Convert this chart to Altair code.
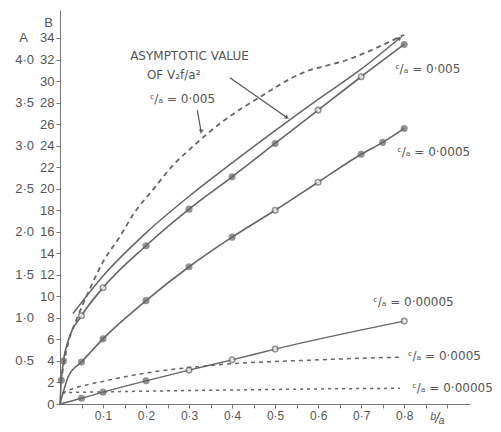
import altair as alt
import pandas as pd

# ---------------- data ----------------
# asymptotic value of V2f/a^2 (solid, no markers)
asym_x = [0.03, 0.1, 0.2, 0.3, 0.4, 0.5, 0.6, 0.7, 0.79]
asym_y = [8.4, 11.9, 15.9, 19.3, 22.4, 25.4, 28.3, 31.1, 34.0]

# c/a = 0.005 (solid)
s1_x = [0, 0.003, 0.008, 0.02, 0.05, 0.1, 0.2, 0.3, 0.4, 0.5, 0.6, 0.7, 0.8]
s1_y = [0, 2.2, 4.0, 6.0, 8.2, 10.8, 14.7, 18.1, 21.1, 24.2, 27.3, 30.4, 33.4]
s1_open = [None, False, False, None, True, True, False, False, False, False, True, True, False]

# c/a = 0.0005 (solid)
s2_x = [0, 0.02, 0.05, 0.1, 0.2, 0.3, 0.4, 0.5, 0.6, 0.7, 0.75, 0.8]
s2_y = [0, 2.6, 3.9, 6.05, 9.6, 12.75, 15.5, 18.0, 20.6, 23.2, 24.3, 25.6]
s2_open = [None, None, False, False, False, False, False, True, True, False, False, False]

# c/a = 0.00005 (solid)
s3_x = [0, 0.05, 0.1, 0.2, 0.3, 0.4, 0.5, 0.8]
s3_y = [0, 0.53, 1.1, 2.15, 3.15, 4.1, 5.1, 7.7]
s3_open = [None, False, False, False, True, True, True, True]

# dashed curves
d1_x = [0.002, 0.01, 0.02, 0.04, 0.066, 0.1, 0.14, 0.17, 0.22, 0.263, 0.3, 0.38, 0.46, 0.56, 0.67, 0.8]
d1_y = [2.0, 4.0, 5.8, 8.0, 10.4, 13.2, 15.6, 17.6, 20.1, 22.2, 23.6, 26.3, 28.4, 30.7, 32.0, 34.3]
d2_x = [0.005, 0.035, 0.054, 0.1, 0.14, 0.22, 0.28, 0.33, 0.4, 0.5, 0.6, 0.7, 0.79]
d2_y = [1.0, 1.5, 1.7, 2.1, 2.45, 3.0, 3.3, 3.5, 3.75, 3.95, 4.1, 4.25, 4.35]
d3_x = [0.005, 0.015, 0.14, 0.28, 0.4, 0.6, 0.79]
d3_y = [1.0, 1.05, 1.15, 1.24, 1.3, 1.4, 1.46]

# axes
x_ticks = [0.05 * i for i in range(1, 19)]
b_ticks = list(range(0, 35, 2))
a_label_pos = [4, 8, 12, 16, 20, 24, 28, 32]
a_labels = ["0·5", "1·0", "1·5", "2·0", "2·5", "3·0", "3·5", "4·0"]

# annotations (data units)
ann_text = ["ASYMPTOTIC VALUE", "OF V₂f/a²", "ᶜ/ₐ = 0·005",
            "ᶜ/ₐ = 0·005", "ᶜ/ₐ = 0·0005", "ᶜ/ₐ = 0·00005",
            "ᶜ/ₐ = 0·0005", "ᶜ/ₐ = 0·00005"]
ann_x = [0.163, 0.202, 0.209, 0.779, 0.784, 0.728, 0.809, 0.819]
ann_y = [32.3, 30.6, 28.3, 31.1, 23.4, 9.5, 4.47, 1.49]

arrow_x1 = [0.395, 0.319]
arrow_y1 = [30.3, 27.3]
arrow_x2 = [0.528, 0.328]
arrow_y2 = [26.6, 25.3]
head_x = [0.528, 0.328, 0.79]
head_y = [26.6, 25.3, 34.0]
head_angle = [125, 190, 54]

# ---------------- chart ----------------
GREY = "#666666"
XD = [0, 0.953]
YD = [0, 36.6]

xs = alt.Scale(domain=XD, nice=False, zero=False)
ys = alt.Scale(domain=YD, nice=False, zero=False)

xaxis = alt.Axis(values=x_ticks, title="ᵇ/ₐ", titleX=370, titleY=6, titleAlign="left",
                 titleBaseline="top",
                 titleFontSize=15, titleFontStyle="italic", titleFontWeight="normal",
                 titleColor="#555555", labelOverlap=False,
                 labelExpr="(round(datum.value*100) % 10 == 0 && datum.value < 0.85) ? replace(format(datum.value, '.1f'), '.', '·') : ''",
                 labelFontSize=12, labelColor="#555555", labelPadding=2, tickSize=4,
                 tickColor="#777777", domainColor="#777777", grid=False, labelFont="Liberation Sans")
yaxis = alt.Axis(values=b_ticks, title="B", titleAngle=0, titleX=-12, titleY=12,
                 titleAlign="center", titleBaseline="middle", titleFontSize=13, titleFontWeight="normal",
                 titleColor="#555555", labelFontSize=13, labelColor="#555555", labelOverlap=False,
                 labelPadding=2, tickSize=4, tickColor="#777777", domainColor="#777777",
                 grid=False, labelFont="Liberation Sans")

XE = alt.X("x:Q", scale=xs, axis=xaxis)
YE = alt.Y("y:Q", scale=ys, axis=yaxis)

def frame(xv, yv, extra=None):
    d = {"x": xv, "y": yv}
    if extra is not None:
        d["open"] = extra
    return pd.DataFrame(d)

def line(df, dash=None, width=1.5):
    kw = dict(color=GREY, strokeWidth=width, interpolate="monotone")
    if dash:
        kw["strokeDash"] = dash
    return alt.Chart(df).mark_line(**kw).encode(x=XE, y=YE)

def points(df):
    d = df.dropna(subset=["open"])
    d = d.assign(fill=["white" if o else GREY for o in d["open"]])
    return alt.Chart(d).mark_point(filled=True, size=30, stroke=GREY, strokeWidth=1.6).encode(
        x=XE, y=YE, fill=alt.Fill("fill:N", scale=None))

s1 = frame(s1_x, s1_y, s1_open)
s2 = frame(s2_x, s2_y, s2_open)
s3 = frame(s3_x, s3_y, s3_open)

layers = [line(frame(asym_x, asym_y), width=1.5),
          line(s1, width=1.6), line(s2, width=1.6), line(s3, width=1.4),
          line(frame(d1_x, d1_y), dash=[5, 4], width=1.8),
          line(frame(d2_x, d2_y), dash=[4, 4], width=1.5),
          line(frame(d3_x, d3_y), dash=[3, 4], width=1.5),
          points(s1), points(s2), points(s3)]

arrows = pd.DataFrame({"x": arrow_x1, "y": arrow_y1, "x2": arrow_x2, "y2": arrow_y2})
layers.append(alt.Chart(arrows).mark_rule(color="#555555", strokeWidth=1.2).encode(
    x=XE, y=YE, x2="x2:Q", y2="y2:Q"))
heads = pd.DataFrame({"x": head_x, "y": head_y, "a": head_angle})
layers.append(alt.Chart(heads).mark_point(shape="triangle-up", filled=True, size=28, color="#444444").encode(
    x=XE, y=YE, angle=alt.Angle("a:Q", scale=None)))

ann = pd.DataFrame({"t": ann_text, "x": ann_x, "y": ann_y})
layers.append(alt.Chart(ann).mark_text(align="left", baseline="middle", fontSize=12,
                                       font="DejaVu Sans", color="#555555").encode(
    x=XE, y=YE, text="t:N"))

alab = pd.DataFrame({"t": a_labels, "y": a_label_pos})
layers.append(alt.Chart(alab).mark_text(align="right", baseline="middle", fontSize=13,
                                        font="Liberation Sans", color="#555555").encode(
    x=alt.value(-26), y=YE, text="t:N"))
layers.append(alt.Chart(pd.DataFrame({"t": ["A"], "y": [34]})).mark_text(
    align="right", baseline="middle", fontSize=13, font="Liberation Sans", color="#555555").encode(
    x=alt.value(-32), y=YE, text="t:N"))

chart = alt.layer(*layers).properties(
    width=410, height=394,
    background="white",
    autosize=alt.AutoSizeParams(type="none"),
    padding={"left": 52, "top": 2, "right": 23, "bottom": 20},
).configure_view(stroke=None).configure_axis(labelOverlap=False)

chart.save("out.html", embed_options={"renderer": "svg", "actions": False})
